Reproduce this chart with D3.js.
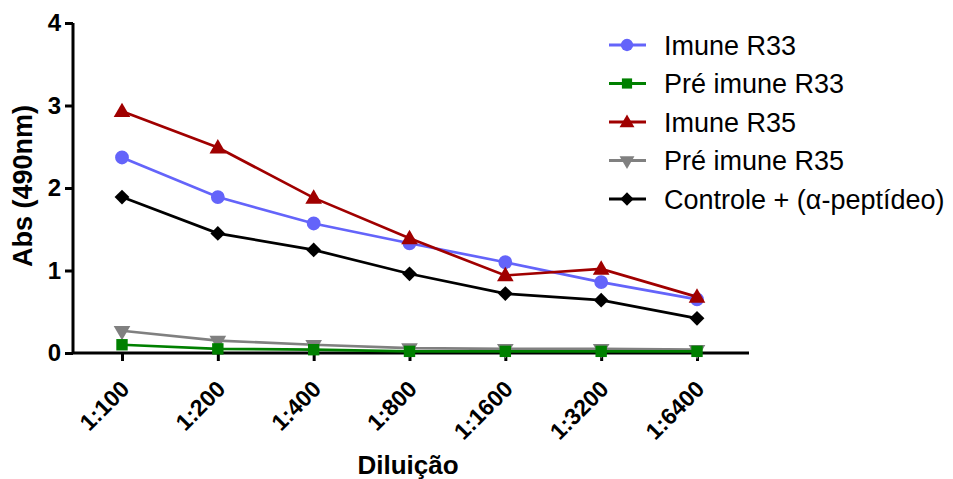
<!DOCTYPE html>
<html>
<head>
<meta charset="utf-8">
<script src="https://cdn.jsdelivr.net/npm/d3@7"></script>
<style>
  body { margin: 0; background: #fff; }
  text { font-family: Arial, "Liberation Sans", sans-serif; }
</style>
</head>
<body>
<div class="chart"></div>
<script>
const dilutions = ["1:100", "1:200", "1:400", "1:800", "1:1600", "1:3200", "1:6400"];
const imuneR33 = [2.37, 1.89, 1.57, 1.33, 1.10, 0.86, 0.65];
const preImuneR33 = [0.10, 0.05, 0.04, 0.02, 0.02, 0.02, 0.02];
const imuneR35 = [2.93, 2.49, 1.88, 1.39, 0.94, 1.02, 0.68];
const preImuneR35 = [0.27, 0.15, 0.10, 0.06, 0.05, 0.05, 0.04];
const controle = [1.89, 1.45, 1.25, 0.96, 0.72, 0.64, 0.42];
const yTicks = [0, 1, 2, 3, 4];

const series = [
  {name: "Imune R33", values: imuneR33, color: "#6464fa", symbol: d3.symbolCircle, size: 150},
  {name: "Pré imune R33", values: preImuneR33, color: "#008000", symbol: d3.symbolSquare, size: 130},
  {name: "Imune R35", values: imuneR35, color: "#a00000", symbol: d3.symbolTriangle, size: 120, dy: 1},
  {name: "Pré imune R35", values: preImuneR35, color: "#808080", symbol: d3.symbolTriangle, size: 120, rot: 180},
  {name: "Controle + (α-peptídeo)", values: controle, color: "#000000", symbol: d3.symbolSquare, size: 110, rot: 45}
];

createChart(".chart");

function createChart(id){
  const width = 953, height = 479;
  const svg = d3.select(id).append("svg")
    .attr("width", width)
    .attr("height", height);

  const x = d3.scalePoint().domain(dilutions).range([122, 697]);
  const y = d3.scaleLinear().domain([0, 4]).range([353, 23]);

  // axes
  const yAxis = svg.append("g")
    .attr("transform", "translate(73,0)")
    .call(d3.axisLeft(y).tickValues(yTicks).tickSize(8).tickPadding(4).tickFormat(d3.format("d")));
  yAxis.select(".domain").attr("d", `M0,${y(4)}V${y(0)}`);

  const xAxis = svg.append("g")
    .attr("transform", `translate(0,${y(0)})`)
    .call(d3.axisBottom(x).tickSize(8));
  xAxis.select(".domain").attr("d", "M72,0H749");

  svg.selectAll(".domain, .tick line")
    .attr("stroke", "#000").attr("stroke-width", 3);
  yAxis.selectAll("text")
    .style("font-size", "24px").style("font-weight", "bold").attr("fill", "#000");
  xAxis.selectAll("text")
    .style("font-size", "23px").style("font-weight", "bold").attr("fill", "#000")
    .attr("text-anchor", "end")
    .attr("x", 0).attr("y", 0)
    .attr("dy", "0.7em")
    .attr("transform", "translate(-3,26) rotate(-45)");

  svg.append("text")
    .attr("x", 408).attr("y", 474)
    .attr("text-anchor", "middle")
    .style("font-size", "26px").style("font-weight", "bold")
    .text("Diluição");

  svg.append("text")
    .attr("transform", "translate(32,186) rotate(-90)")
    .attr("text-anchor", "middle")
    .style("font-size", "27px").style("font-weight", "bold")
    .text("Abs (490nm)");

  const line = d3.line()
    .x((d, i) => x(dilutions[i]))
    .y(d => y(d));

  // draw order so the low curves sit like in the original
  const order = [3, 1, 4, 0, 2];
  order.forEach(k => {
    const s = series[k];
    const g = svg.append("g");
    g.append("path")
      .datum(s.values)
      .attr("d", line)
      .attr("fill", "none")
      .attr("stroke", s.color)
      .attr("stroke-width", 2.7);
    g.selectAll("path.m")
      .data(s.values)
      .join("path")
      .attr("class", "m")
      .attr("d", d3.symbol().type(s.symbol).size(s.size))
      .attr("fill", s.color)
      .attr("transform", (d, i) => `translate(${x(dilutions[i])},${y(d) + (s.dy || 0)}) rotate(${s.rot || 0})`);
  });

  // legend
  const legend = svg.append("g");
  series.forEach((s, i) => {
    const ly = 45 + i * 38.5;
    const lg = legend.append("g").attr("transform", `translate(0,${ly})`);
    lg.append("line")
      .attr("x1", 609).attr("x2", 646)
      .attr("stroke", s.color).attr("stroke-width", 3);
    lg.append("path")
      .attr("d", d3.symbol().type(s.symbol).size(s.size * 0.8))
      .attr("fill", s.color)
      .attr("transform", `translate(627,${s.dy || 0}) rotate(${s.rot || 0})`);
    lg.append("text")
      .attr("x", 664).attr("y", 0).attr("dy", "0.36em")
      .style("font-size", "27px")
      .text(s.name);
  });
}
</script>
</body>
</html>
